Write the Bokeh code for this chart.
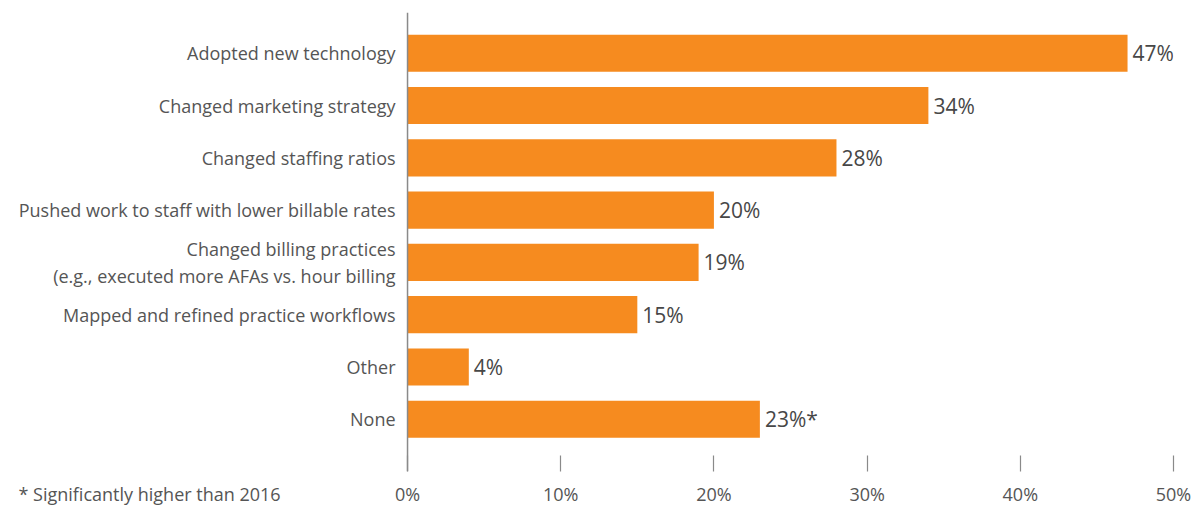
from bokeh.plotting import figure
from bokeh.models import ColumnDataSource, Range1d, FixedTicker, LinearAxis, Span
from bokeh.core.properties import value
from bokeh.embed import file_html
from bokeh.resources import INLINE

categories = [
    "Adopted new technology",
    "Changed marketing strategy",
    "Changed staffing ratios",
    "Pushed work to staff with lower billable rates",
    "Changed billing practices\n(e.g., executed more AFAs vs. hour billing",
    "Mapped and refined practice workflows",
    "Other",
    "None",
]
values = [47, 34, 28, 20, 19, 15, 4, 23]
marks = ["", "", "", "", "", "", "", "*"]
x_ticks = [0, 10, 20, 30, 40, 50]
footnote = "* Significantly higher than 2016"

FONT = "Open Sans"
BAR = "#F68B1F"
GREY = "#555555"
LINE = "#8a8a8a"

W, H = 1199, 508
X_START = -26.57          # left edge of the frame (canvas left)
FOOT_POS = -16.84         # centre of the footnote along the x scale

pos = list(range(len(categories)))
src = ColumnDataSource(dict(
    y=pos,
    v=values,
    cat=categories,
    lab=[f"{v}%{m}" for v, m in zip(values, marks)],
))

p = figure(width=W, height=H, output_backend="svg", toolbar_location=None,
           x_range=Range1d(X_START, 50), y_range=Range1d(len(categories) - 1 + 1.0, -0.78),
           y_axis_location=None,
           min_border_left=0, min_border_right=W - 1173, min_border_top=12,
           min_border_bottom=H - 474)
p.outline_line_color = None
p.grid.visible = False

p.hbar(y="y", right="v", left=0, height=0.71, source=src, color=BAR, line_color=None)
p.text(x="v", y="y", text="lab", source=src, x_offset=5, text_baseline="middle",
       text_font=value(FONT), text_font_size="21px", text_color="#474747")
p.text(x=0, y="y", text="cat", source=src, x_offset=-12, text_align="right",
       text_baseline="middle", text_line_height=1.1,
       text_font=value(FONT), text_font_size="18px", text_color=GREY)

p.add_layout(Span(location=0, dimension="height", line_color=LINE, line_width=1.5))

# axis 1: tick marks only
xa = p.xaxis[0]
xa.ticker = FixedTicker(ticks=x_ticks)
xa.axis_line_color = None
xa.major_tick_in = 16
xa.major_tick_out = 0
xa.major_tick_line_color = LINE
xa.major_tick_line_width = 1.2
xa.minor_tick_line_color = None
xa.major_label_overrides = {t: "" for t in x_ticks}
xa.major_label_text_font_size = "1px"
xa.major_label_standoff = 0

# axis 2: tick labels and footnote
xb = LinearAxis(ticker=FixedTicker(ticks=[FOOT_POS] + x_ticks))
xb.major_label_overrides = {FOOT_POS: footnote, **{t: f"{t}%" for t in x_ticks}}
xb.axis_line_color = None
xb.major_tick_in = 0
xb.major_tick_out = 0
xb.major_tick_line_color = None
xb.minor_tick_line_color = None
xb.major_label_text_font = FONT
xb.major_label_text_font_size = "18px"
xb.major_label_text_color = GREY
xb.major_label_standoff = 10
p.add_layout(xb, "below")

open("out.html", "w").write(file_html(p, INLINE))
